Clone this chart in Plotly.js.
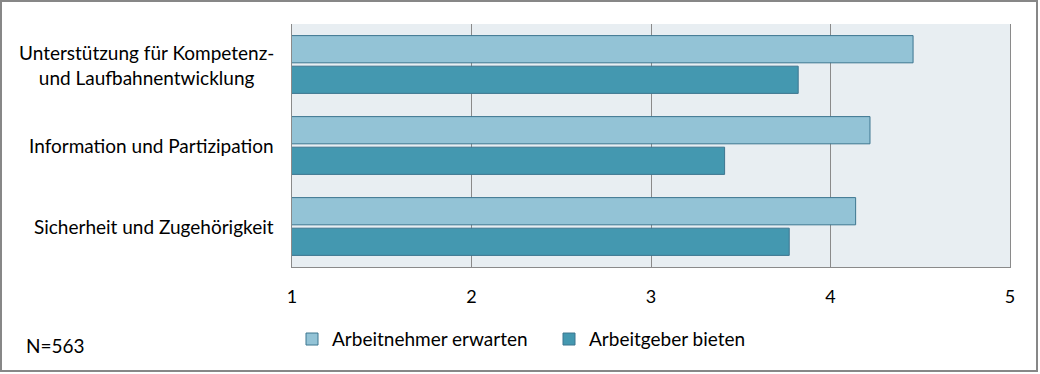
<!DOCTYPE html>
<html>
<head>
<meta charset="utf-8">
<script src="https://cdn.plot.ly/plotly-3.0.1.min.js"></script>
<style>
  html, body { margin: 0; padding: 0; background: #ffffff; }
  #wrap { position: absolute; left: 0; top: 0; width: 1038px; height: 372px; border: 2px solid #878787; box-sizing: border-box; background: #fff; }
  #chart { width: 1034px; height: 368px; }
</style>
</head>
<body>
<div id="wrap"><div id="chart"></div></div>
<script>
const categories = [
  "Unterstützung für Kompetenz-<br>und Laufbahnentwicklung",
  "Information und Partizipation",
  "Sicherheit und Zugehörigkeit"
];
const seriesNames = ["Arbeitnehmer erwarten", "Arbeitgeber bieten"];
const arbeitnehmerErwarten = [4.46, 4.22, 4.14];
const arbeitgeberBieten = [3.82, 3.41, 3.77];
const xTicks = [1, 2, 3, 4, 5];
const noteText = "N=563";

const FONT = "Lato, 'Liberation Sans', sans-serif";
const lineCol = "#3d7690";

const traces = [
  {
    type: "bar", orientation: "h", name: seriesNames[0],
    y: categories, x: arbeitnehmerErwarten,
    marker: { color: "#93c3d6", line: { color: lineCol, width: 1 } },
    hoverinfo: "skip"
  },
  {
    type: "bar", orientation: "h", name: seriesNames[1],
    y: categories, x: arbeitgeberBieten,
    marker: { color: "#4498b0", line: { color: lineCol, width: 1 } },
    hoverinfo: "skip"
  }
];

const annotations = categories.map(c => ({
  xref: "paper", yref: "y", x: -0.0223, y: c,
  xanchor: "right", yanchor: "middle", align: "center",
  text: c, showarrow: false,
  font: { family: FONT, size: 19, color: "#000" }
}));
annotations.push({
  xref: "paper", yref: "paper", x: -0.3733, y: -0.325,
  xanchor: "left", yanchor: "middle",
  text: noteText, showarrow: false,
  font: { family: FONT, size: 19, color: "#000" }
});

const layout = {
  width: 1034, height: 368,
  margin: { l: 290, r: 26, t: 22, b: 100 },
  paper_bgcolor: "#ffffff",
  plot_bgcolor: "#e8eef2",
  barmode: "group",
  bargap: 0.245,
  bargroupgap: 0.11,
  font: { family: FONT, size: 18, color: "#000" },
  xaxis: {
    range: [1, 5], tickvals: xTicks, ticktext: xTicks.map(String),
    showgrid: true, gridcolor: "#8a8a8a", gridwidth: 1,
    showline: true, linecolor: "#8a8a8a", linewidth: 1,
    zeroline: false, ticks: "", ticklabelstandoff: 13,
    tickfont: { family: FONT, size: 18, color: "#000" },
    fixedrange: true
  },
  yaxis: {
    autorange: "reversed", type: "category",
    showticklabels: false, showgrid: false,
    showline: true, mirror: true, linecolor: "#8a8a8a", linewidth: 1,
    ticks: "", zeroline: false, fixedrange: true
  },
  showlegend: true,
  legend: {
    orientation: "h", x: 0.0, y: -0.297, xanchor: "left", yanchor: "middle",
    entrywidth: 212, entrywidthmode: "pixels",
    font: { family: FONT, size: 19, color: "#000" },
    bgcolor: "rgba(0,0,0,0)", traceorder: "normal"
  },
  annotations: annotations
};

Plotly.newPlot("chart", traces, layout, { staticPlot: true, displayModeBar: false });
</script>
</body>
</html>
